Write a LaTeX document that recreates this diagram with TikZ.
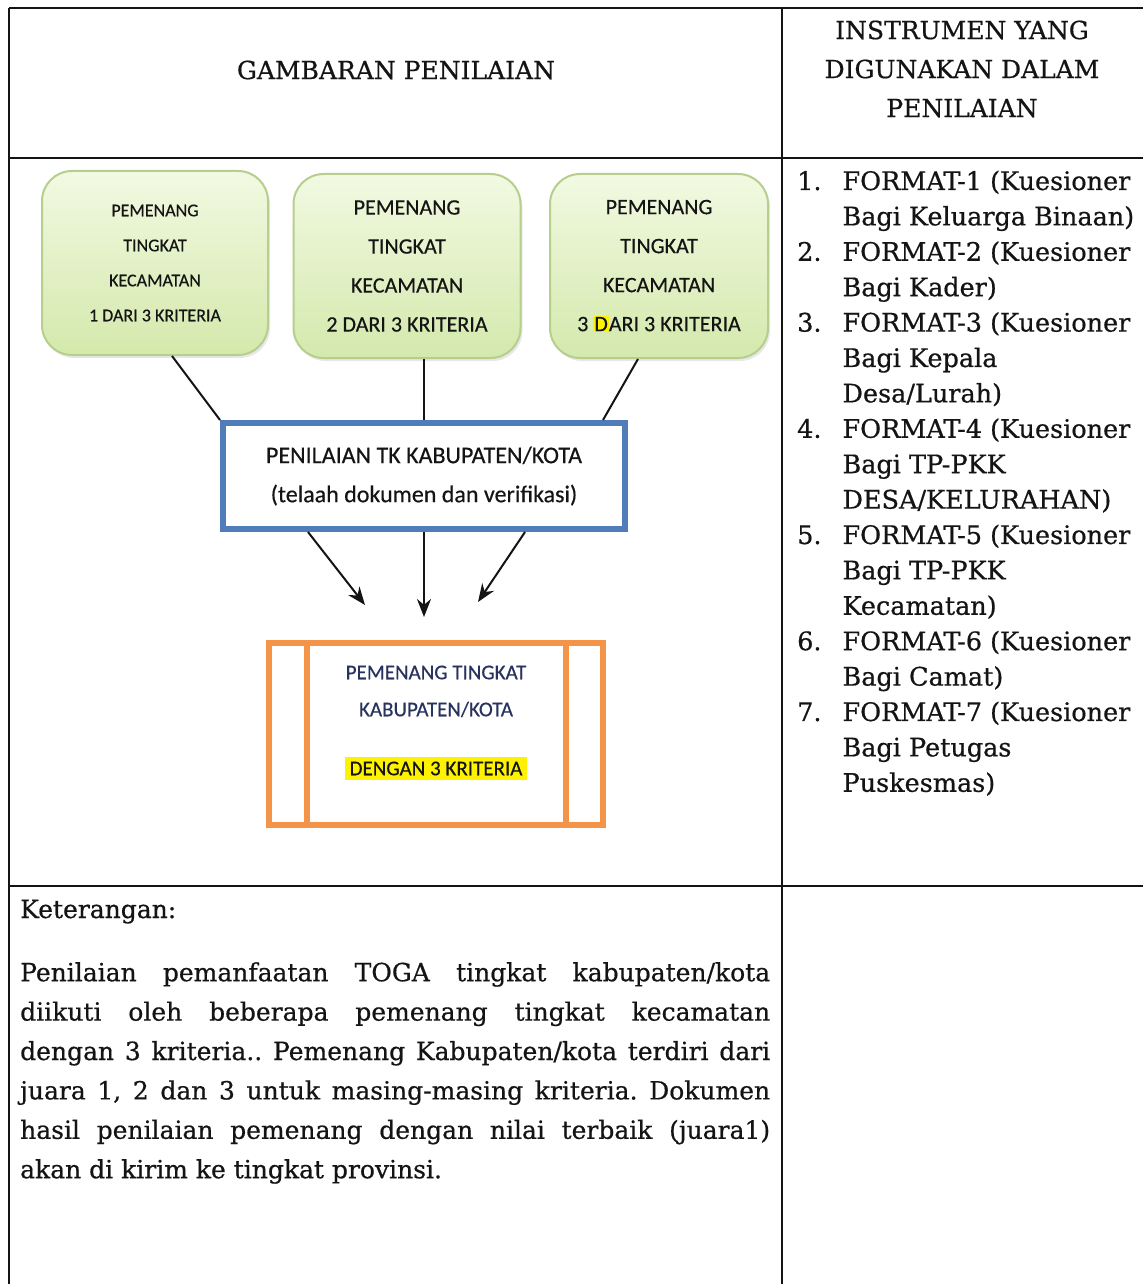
\documentclass[tikz,border=0pt]{standalone}
\usepackage{fontspec}
\setmainfont{DejaVu Serif}[FakeBold=0.6]
\newfontfamily\calibri{Carlito}[FakeBold=0.4]
\usetikzlibrary{arrows.meta,shadows}
\frenchspacing
\definecolor{boxgreen}{RGB}{182,206,142}
\definecolor{greentop}{RGB}{242,249,226}
\definecolor{greenbot}{RGB}{212,233,172}
\definecolor{evalblue}{RGB}{80,124,186}
\definecolor{winorange}{RGB}{244,148,72}
\definecolor{navytext}{RGB}{40,50,95}
\definecolor{inkblack}{RGB}{20,20,20}
\tikzset{
  rule/.style={line width=2pt, inkblack},
  winner/.style={draw=boxgreen, line width=2pt, rounded corners=30pt,
    top color=greentop, bottom color=greenbot, minimum height=184pt,
    align=center, inner sep=0pt, text=inkblack,
    drop shadow={opacity=0.18, shadow xshift=2pt, shadow yshift=-3pt}},
  evalbox/.style={draw=evalblue, line width=6pt, fill=white,
    minimum width=402pt, minimum height=106pt, align=center, inner sep=0pt},
  procbox/.style={draw=winorange, line width=6pt, fill=white,
    minimum width=334pt, minimum height=182pt, inner sep=0pt},
  procline/.style={draw=winorange, line width=6pt},
  link/.style={line width=2pt, inkblack},
  arrowlink/.style={line width=2pt, inkblack, -{Stealth[length=18pt,width=14pt]}},
  cell/.style={inner sep=0pt, text=inkblack, font=\fontsize{25}{39}\selectfont}
}
\begin{document}
\begin{tikzpicture}[x=1pt,y=-1pt]
\useasboundingbox[fill=white] (0,0) rectangle (1143,1284);
% table grid
\draw[rule] (9,8) -- (1143,8);
\draw[rule] (9,158) -- (1143,158);
\draw[rule] (9,886) -- (1143,886);
\draw[rule] (9,8) -- (9,1284);
\draw[rule] (782,8) -- (782,1284);
% headers
\node[cell] (headleft) at (396,70) {GAMBARAN PENILAIAN};
\node[cell, align=center] (headright) at (962,69) {INSTRUMEN YANG\\DIGUNAKAN DALAM\\PENILAIAN};
% winners per kecamatan
\node[winner, minimum width=226pt, font=\calibri\fontsize{18}{35}\selectfont] (w1) at (155,263)
  {PEMENANG\\TINGKAT\\KECAMATAN\\1 DARI 3 KRITERIA};
\node[winner, minimum width=227pt, font=\calibri\fontsize{22}{39}\selectfont] (w2) at (407,266)
  {PEMENANG\\TINGKAT\\KECAMATAN\\2 DARI 3 KRITERIA};
\node[winner, minimum width=218pt, font=\calibri\fontsize{22}{39}\selectfont] (w3) at (659,266)
  {PEMENANG\\TINGKAT\\KECAMATAN\\3 {\setlength{\fboxsep}{1pt}\colorbox{yellow}{D}}ARI 3 KRITERIA};
% assessment
\node[evalbox, text=inkblack, font=\calibri\fontsize{24}{39}\selectfont] (eval) at (424,476)
  {PENILAIAN TK KABUPATEN/KOTA\\(telaah dokumen dan verifikasi)};
\draw[link] ([xshift=17pt]w1.south) -- (eval.north west);
\draw[link] (eval.north) -- (eval.north |- w2.south);
\draw[link] ([xshift=-21pt]w3.south) -- ([xshift=-25pt]eval.north east);
% winner kabupaten/kota
\node[procbox] (proc) at (436,734) {};
\draw[procline] ([xshift=41pt]proc.north west) -- ([xshift=41pt]proc.south west);
\draw[procline] ([xshift=-40pt]proc.north east) -- ([xshift=-40pt]proc.south east);
\node[align=center, inner sep=0pt, text=navytext, font=\calibri\fontsize{21}{37}\selectfont] (proctext) at (436,723)
  {PEMENANG TINGKAT\\KABUPATEN/KOTA\\[22pt]{\setlength{\fboxsep}{5pt}\colorbox{yellow}{\textcolor{inkblack}{DENGAN 3 KRITERIA}}}};
\coordinate (tip1) at ([xshift=-71pt,yshift=35pt]proc.north);
\coordinate (tip2) at ([yshift=23pt]proc.north);
\coordinate (tip3) at ([xshift=42pt,yshift=38pt]proc.north);
\draw[arrowlink] ([xshift=-116pt]eval.south) -- (tip1);
\draw[arrowlink] (eval.south) -- (eval.south |- tip2);
\draw[arrowlink] ([xshift=101pt]eval.south) -- (tip3);
% instruments
\node[inner sep=0pt, anchor=north west, text=inkblack, font=\fontsize{25.5}{35.4}\selectfont] (formats) at (797,165)
  {\begin{tabular}{@{}r@{\hspace{21pt}}l@{}}
  1. & FORMAT-1 (Kuesioner\\
     & Bagi Keluarga Binaan)\\
  2. & FORMAT-2 (Kuesioner\\
     & Bagi Kader)\\
  3. & FORMAT-3 (Kuesioner\\
     & Bagi Kepala\\
     & Desa/Lurah)\\
  4. & FORMAT-4 (Kuesioner\\
     & Bagi TP-PKK\\
     & DESA/KELURAHAN)\\
  5. & FORMAT-5 (Kuesioner\\
     & Bagi TP-PKK\\
     & Kecamatan)\\
  6. & FORMAT-6 (Kuesioner\\
     & Bagi Camat)\\
  7. & FORMAT-7 (Kuesioner\\
     & Bagi Petugas\\
     & Puskesmas)
  \end{tabular}};
% keterangan
\node[cell, anchor=base west] (notehead) at (20,918) {Keterangan:};
\node[cell, anchor=north west, text width=750pt, align=justify, font=\fontsize{25}{39.4}\selectfont] (note) at (20,962)
  {Penilaian pemanfaatan TOGA tingkat kabupaten/kota\linebreak
  diikuti oleh beberapa pemenang tingkat kecamatan\linebreak
  dengan 3 kriteria.. Pemenang Kabupaten/kota terdiri dari\linebreak
  juara 1, 2 dan 3 untuk masing-masing kriteria. Dokumen\linebreak
  hasil penilaian pemenang dengan nilai terbaik (juara1)\linebreak
  akan di kirim ke tingkat provinsi.};
\end{tikzpicture}
\end{document}
